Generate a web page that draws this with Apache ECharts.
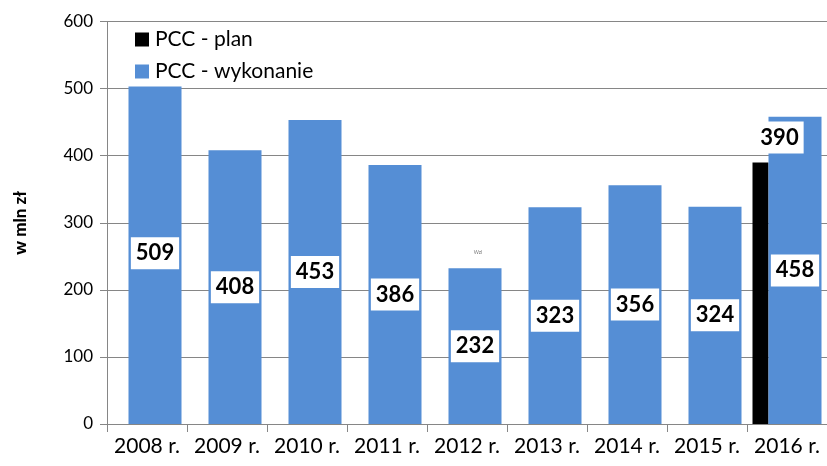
<!DOCTYPE html>
<html>
<head>
<meta charset="utf-8">
<script src="https://cdn.jsdelivr.net/npm/echarts@6/dist/echarts.min.js"></script>
<style>html,body{margin:0;padding:0;background:#fff;}#c{width:827px;height:466px;}</style>
</head>
<body>
<div id="c"></div>
<script>
var categories = ['2008 r.', '2009 r.', '2010 r.', '2011 r.', '2012 r.', '2013 r.', '2014 r.', '2015 r.', '2016 r.'];
var planValues = [null, null, null, null, null, null, null, null, 390];
var wykonanieValues = [509, 408, 453, 386, 232, 323, 356, 324, 458];
var yTicks = [0, 100, 200, 300, 400, 500, 600];

var chart = echarts.init(document.getElementById('c'), null, {renderer: 'canvas'});
var FONT = 'Lato';
var labelBox = {
  show: true,
  fontFamily: FONT,
  fontWeight: 'bold',
  fontSize: 22,
  color: '#000',
  backgroundColor: '#fff',
  padding: [6, 5, 4, 5]
};
chart.setOption({
  animation: false,
  textStyle: {fontFamily: FONT},
  grid: {left: 107, right: 0, top: 21.5, bottom: 42, containLabel: false},
  legend: {
    orient: 'vertical',
    left: 130, top: 24,
    itemWidth: 14, itemHeight: 14,
    itemGap: 11,
    z: 11,
    icon: 'rect',
    textStyle: {fontFamily: FONT, fontSize: 21, color: '#000', padding: [0, 0, 0, 1]},
    data: ['PCC - plan', 'PCC - wykonanie']
  },
  graphic: [
    {type: 'rect', z: 10, shape: {x: 109, y: 22.5, width: 229, height: 64}, style: {fill: '#fff'}},
    {type: 'text', z: 10, x: 478, y: 250, style: {text: 'Wzl', fontSize: 5, fill: '#777', align: 'center', fontFamily: FONT}}
  ],
  xAxis: {
    type: 'category',
    data: categories,
    axisLine: {lineStyle: {color: '#868686', width: 1}},
    axisTick: {show: true, length: 8, alignWithLabel: false, lineStyle: {color: '#868686'}},
    axisLabel: {fontFamily: FONT, fontSize: 21, color: '#000', margin: 12, interval: 0}
  },
  yAxis: {
    type: 'value',
    min: yTicks[0], max: yTicks[yTicks.length - 1], interval: 100,
    name: 'w mln zł',
    nameLocation: 'middle',
    nameGap: 78,
    nameRotate: 90,
    nameTextStyle: {fontFamily: FONT, fontSize: 17, fontWeight: 900, color: '#000'},
    axisLine: {show: true, lineStyle: {color: '#868686'}},
    axisTick: {show: true, length: 7, lineStyle: {color: '#868686'}},
    axisLabel: {fontFamily: FONT, fontSize: 17, color: '#000', margin: 14},
    splitLine: {lineStyle: {color: '#868686', width: 1}}
  },
  series: [
    {
      name: 'PCC - plan',
      type: 'bar',
      data: planValues,
      barWidth: 16,
      barGap: '0%',
      itemStyle: {color: '#000'},
      label: Object.assign({}, labelBox, {position: 'top', distance: 9, offset: [19, 0]})
    },
    {
      name: 'PCC - wykonanie',
      type: 'bar',
      data: wykonanieValues,
      barWidth: 53,
      barGap: '0%',
      itemStyle: {color: '#558ED5'},
      label: Object.assign({}, labelBox, {position: 'inside'})
    }
  ]
});
</script>
</body>
</html>
